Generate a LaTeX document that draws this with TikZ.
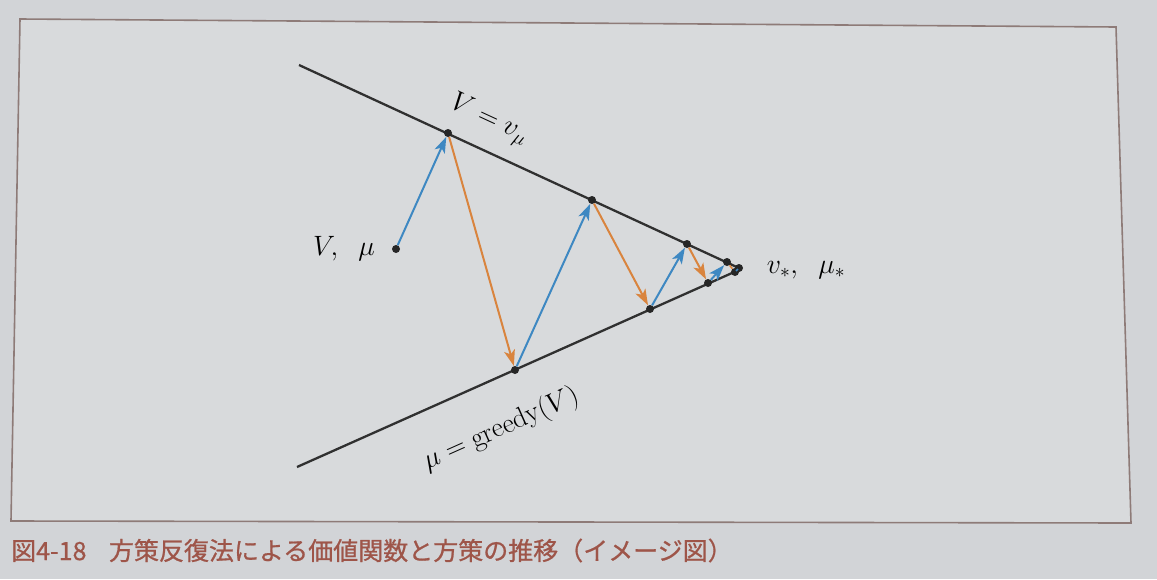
\documentclass[tikz,border=0pt]{standalone}
\usepackage{fix-cm}
\usepackage{fontspec}
\newfontfamily\jpfont[FakeBold=0.8]{Noto Sans CJK JP}
\usetikzlibrary{arrows.meta}
\definecolor{bg}{HTML}{D2D4D7}
\definecolor{inner}{HTML}{D8DADC}
\definecolor{framec}{HTML}{8E7B78}
\definecolor{capc}{HTML}{9E5549}
\definecolor{vblue}{HTML}{3E88C2}
\definecolor{porange}{HTML}{D9843E}
\definecolor{axisc}{HTML}{303030}
\tikzset{
  dot/.style={circle, fill=black!85, inner sep=0pt, minimum size=8pt},
  barrow/.style={draw=vblue, line width=2pt, -{Stealth[length=16pt,width=11pt,inset=4pt]}},
  oarrow/.style={draw=porange, line width=2pt, -{Stealth[length=16pt,width=11pt,inset=4pt]}},
  bseg/.style={draw=vblue, line width=1.6pt},
  oseg/.style={draw=porange, line width=1.6pt},
  mainline/.style={draw=axisc, line width=2.3pt},
  lbl/.style={font=\fontsize{28}{32}\selectfont, inner sep=0pt},
  framebox/.style={draw=framec, line width=1.6pt, fill=inner},
}
\begin{document}
\begin{tikzpicture}[x=1pt, y=-1pt]
\useasboundingbox (0,0) rectangle (1157,579);
\fill[bg] (0,0) rectangle (1157,579);
\draw[framebox] (20,19) -- (1116,27) -- (1131,523) -- (11,521) -- cycle;

% main lines
\coordinate (u0) at (299,65);
\coordinate (l0) at (297,467);
\coordinate (apex) at (741,269);
\draw[mainline] (u0) -- (apex);
\draw[mainline] (l0) -- (apex);

% points
\node[dot] (p0) at (396,249) {};
\node[dot] (p1) at (448,133) {};
\node[dot] (p2) at (515,370) {};
\node[dot] (p3) at (592,200) {};
\node[dot] (p4) at (650,309) {};
\node[dot] (p5) at (687,244) {};
\node[dot] (p6) at (708,283) {};
\node[dot] (p7) at (727,262) {};
\node[dot] (p8) at (735,272) {};
\node[dot] (p9) at (739,268) {};

% arrows
\draw[barrow] (p0) -- (p1);
\draw[oarrow] (p1) -- (p2);
\draw[barrow] (p2) -- (p3);
\draw[oarrow] (p3) -- (p4);
\draw[barrow] (p4) -- (p5);
\draw[oarrow] (p5) -- (p6);
\draw[barrow] (p6) -- (p7);
\draw[oseg] (p7) -- (p8);
\draw[bseg] (p8) -- (p9);

% labels
\node[lbl, rotate=-24.8] (lv) at (489,120) {$V=v_\mu$};
\node[lbl, rotate=24] (lg) at (501,429) {$\mu=\mathrm{greedy}(V)$};
\node[lbl] (lvm) at (344,249) {$V,\;\;\mu$};
\node[lbl] (lstar) at (806,270) {$v_*,\;\;\mu_*$};

% caption
\node[anchor=base west, text=capc, font=\jpfont\fontsize{25}{29}\selectfont, inner sep=0pt] (cap) at (11,560) {図4-18\hspace{0.9em}方策反復法による価値関数と方策の推移（イメージ図）};
\end{tikzpicture}
\end{document}
